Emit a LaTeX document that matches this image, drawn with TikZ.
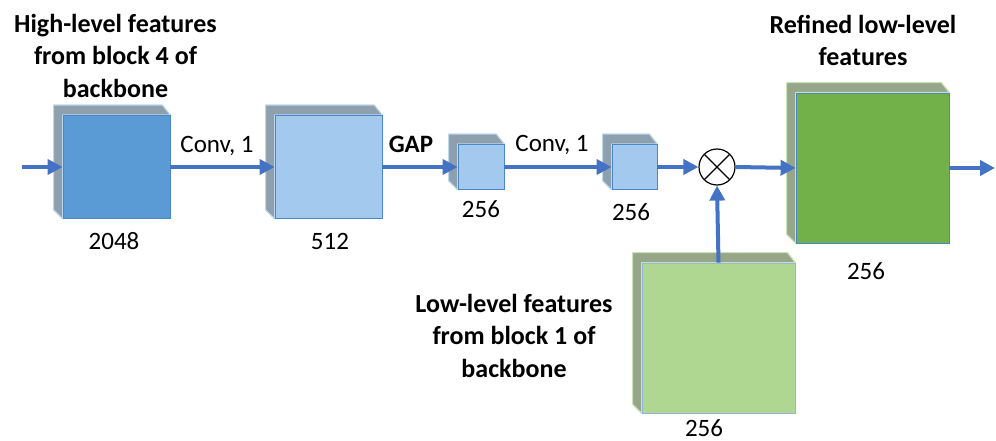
\documentclass[tikz,border=0pt]{standalone}
\usepackage{fontspec}
\setmainfont{Carlito}
\usetikzlibrary{arrows.meta,backgrounds}

\definecolor{arrowblue}{HTML}{4472C4}
\definecolor{deepblue}{HTML}{5B9BD5}
\definecolor{paleblue}{HTML}{A4C9EE}
\definecolor{edgeblue}{HTML}{4A86C8}
\definecolor{sidegray}{HTML}{8E9FAE}
\definecolor{rimblue}{HTML}{BDD7EE}
\definecolor{darkgreen}{HTML}{72B04A}
\definecolor{lightgreen}{HTML}{AFD792}
\definecolor{sidegreen}{HTML}{96A688}
\definecolor{rimgreen}{HTML}{C9E2B8}

\begin{document}
\begin{tikzpicture}[x=1pt,y=-1pt]
    \tikzstyle{blk}=[rectangle,inner sep=0pt,line width=0.8pt,draw=edgeblue]
    \tikzstyle{deep}=[blk,fill=deepblue]
    \tikzstyle{pale}=[blk,fill=paleblue]
    \tikzstyle{grn}=[blk,fill=darkgreen]
    \tikzstyle{lgrn}=[blk,fill=lightgreen,draw=edgeblue!60]
    \tikzstyle{flow}=[-{Triangle[length=15pt,width=15pt]},line width=4pt,arrowblue]
    \tikzstyle{lbl}=[font=\fontsize{25}{30}\selectfont,inner sep=0pt,anchor=base]
    \tikzstyle{head}=[font=\fontsize{26}{32.5}\selectfont\bfseries,align=center,inner sep=0pt,anchor=north]

    \useasboundingbox (0,0) rectangle (996,441);

    % Feature maps
    \node [deep, minimum width=107pt, minimum height=103pt] (hi) at (116.5,167) {};
    \node [pale, minimum width=107pt, minimum height=103pt] (c512) at (328.5,167) {};
    \node [pale, minimum width=46pt, minimum height=45pt] (gap) at (481,167) {};
    \node [pale, minimum width=45pt, minimum height=45pt] (conv) at (634.5,167) {};
    \node [grn, minimum width=153pt, minimum height=150pt] (refined) at (872.5,168) {};
    \node [lgrn, minimum width=153pt, minimum height=150pt] (low) at (718.5,338) {};

    % Product
    \node [circle, draw, line width=1.2pt, fill=white, minimum size=36pt, inner sep=0pt,
        path picture={\draw [line width=1.2pt] (path picture bounding box.north west) -- (path picture bounding box.south east)
            (path picture bounding box.north east) -- (path picture bounding box.south west);}] (mul) at (717,167) {};

    % Depth of the blocks
    \begin{scope}[on background layer]
    \foreach \n/\s/\e in {hi/sidegray/rimblue, c512/sidegray/rimblue, gap/sidegray/rimblue, conv/sidegray/rimblue,
        refined/sidegreen/rimgreen, low/sidegreen/rimgreen}
        \filldraw [fill=\s, draw=\e, line width=1.2pt, line join=round]
            (\n.north east) -- ([shift={(-8,-10)}]\n.north east) -- ([shift={(-9,-10)}]\n.north west)
            -- ([shift={(-9,-9)}]\n.south west) -- (\n.south west) -- (\n.north west) -- cycle;
    \end{scope}

    % Arrows
    \coordinate (in) at (22,167);
    \coordinate (out) at (995,168);
    \draw [flow] (in) -- (hi.west);
    \draw [flow] (hi.east) -- (c512.west);
    \draw [flow] (c512.east) -- (gap.west);
    \draw [flow] (gap.east) -- (conv.west);
    \draw [flow] (conv.east) -- (mul.west);
    \draw [flow] (mul.east) -- (refined.west);
    \draw [flow] (refined.east) -- (out);
    \draw [flow] (low.north) -- (mul.south);

    \node [lbl] at (217,153) {Conv, 1};
    \node [lbl, font=\fontsize{25}{30}\selectfont\bfseries] at (411,153) {GAP};
    \node [lbl] at (552,152) {Conv, 1};

    \node [lbl] at (114,249) {2048};
    \node [lbl] at (330,249) {512};
    \node [lbl] at (481,217) {256};
    \node [lbl] at (631,220) {256};
    \node [lbl] at (866,279) {256};
    \node [lbl] at (704,436) {256};

    \node [head] at (115.5,14) {High-level features\\from block 4 of\\backbone};
    \node [head] at (863,15) {Refined low-level\\features};
    \node [head] at (514,294) {Low-level features\\from block 1 of\\backbone};
\end{tikzpicture}
\end{document}
